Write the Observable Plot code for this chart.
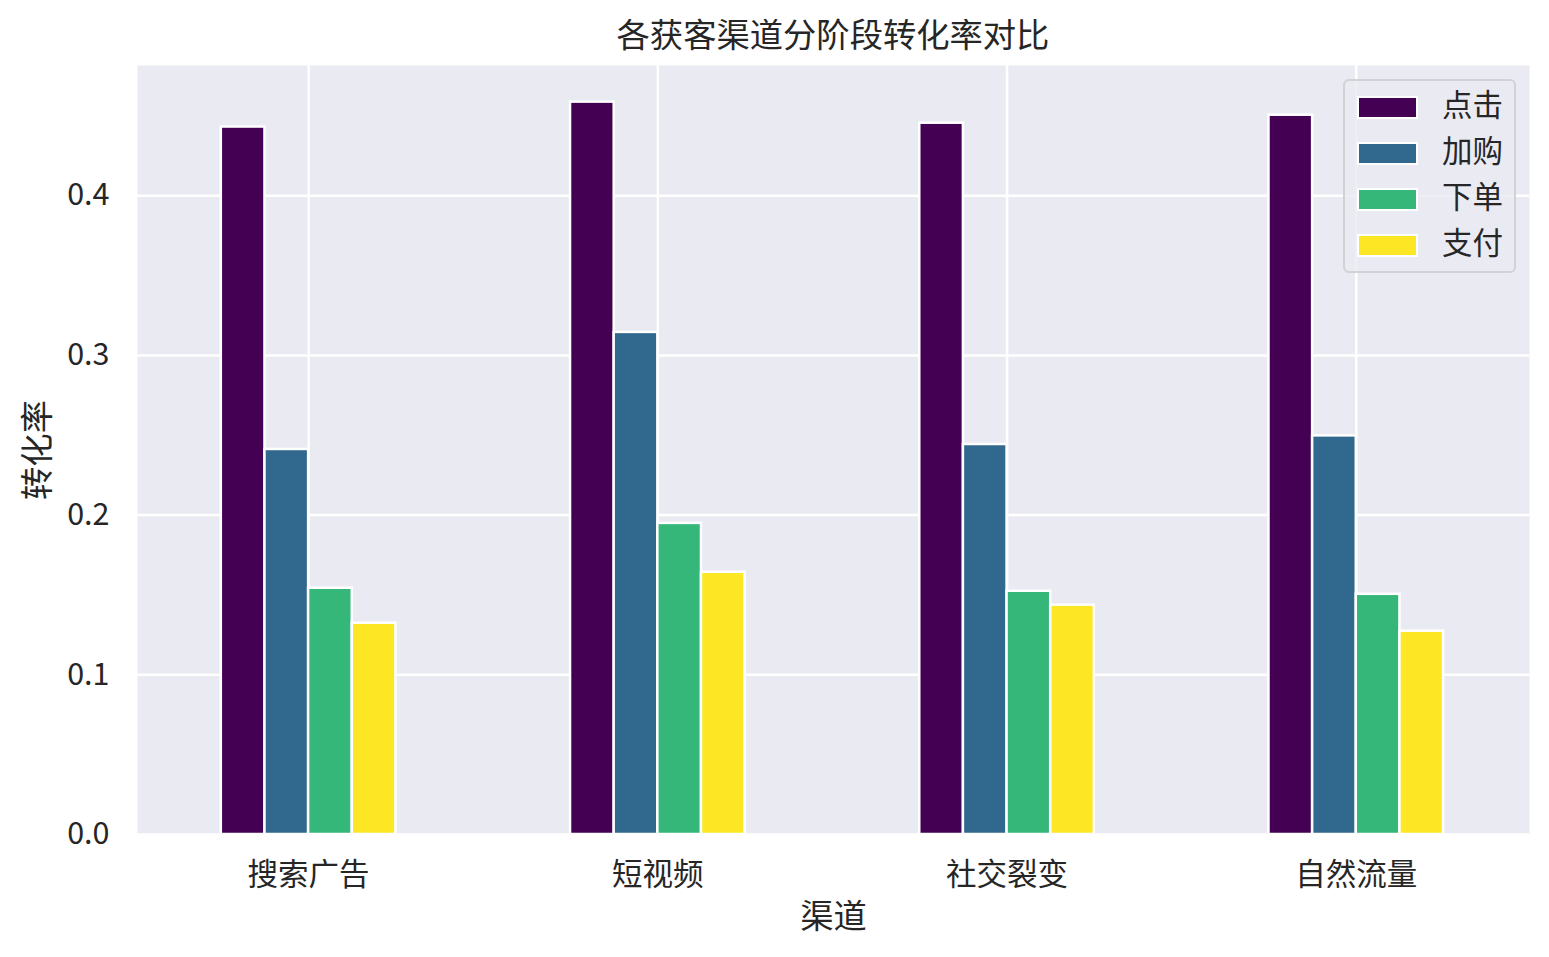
<!DOCTYPE html>
<html><head><meta charset="utf-8">
<script src="https://cdn.jsdelivr.net/npm/d3@7"></script>
<script src="https://cdn.jsdelivr.net/npm/@observablehq/plot@0.6"></script>
<style>
body{margin:0;background:#fff;font-family:"Noto Sans CJK SC","Noto Sans",sans-serif;color:#262626}
#wrap{position:relative;width:1549px;height:957px;overflow:hidden}
#title{position:absolute;left:137px;width:1392px;top:0;height:65px;text-align:center;font-size:33.3px;line-height:66px}
#chart{position:absolute;left:0;top:65px}
#legend{position:absolute;left:1343px;top:79px;width:173px;height:194px;box-sizing:border-box;border:2px solid #d2d2d6;border-radius:6px;background:rgba(234,234,242,0.8)}
.row{position:absolute;left:0;width:170px;height:46px}
.sw{position:absolute;left:12px;top:11.5px;width:61px;height:23px;box-sizing:border-box;border:2px solid #fff}
.lb{position:absolute;left:97px;top:-4px;line-height:46px;font-size:30.5px;white-space:nowrap}
</style></head><body>
<div id="wrap"><div id="title"></div><div id="chart"></div><div id="legend"></div></div>
<script>
const titleText = "各获客渠道分阶段转化率对比";
const xLabel = "渠道";
const yLabel = "转化率";
const channels = ["搜索广告", "短视频", "社交裂变", "自然流量"];
const stages = ["点击", "加购", "下单", "支付"];
const clickRate = [0.443, 0.4586, 0.4454, 0.4504];
const cartRate = [0.2411, 0.3144, 0.2442, 0.2496];
const orderRate = [0.1542, 0.1948, 0.1523, 0.1504];
const payRate = [0.1323, 0.1642, 0.1436, 0.1273];
const stageColors = ["#440154", "#31688e", "#35b779", "#fde725"];
const yTicks = [0, 0.1, 0.2, 0.3, 0.4];

const series = [clickRate, cartRate, orderRate, payRate];
const rows = [];
channels.forEach((c, ci) => series.forEach((vals, si) => rows.push({channel: c, ci, stage: stages[si], si, value: vals[ci]})));
const groupWidth = 0.5, barW = groupWidth / stages.length;
const yMax = d3.max(rows, d => d.value) * 1.05;

document.getElementById("title").textContent = titleText;
const font = '"Noto Sans CJK SC","Noto Sans",sans-serif';

const chart = Plot.plot({
  width: 1549, height: 892,
  marginTop: 0, marginLeft: 137, marginRight: 20, marginBottom: 123,
  style: {fontFamily: font, fontSize: "30.5px", color: "#262626", background: "transparent"},
  x: {type: "linear", domain: [-0.49, channels.length - 0.504]},
  y: {domain: [0, yMax]},
  color: {domain: stages, range: stageColors},
  marks: [
    Plot.frame({fill: "#EAEAF2", stroke: null}),
    Plot.gridX(channels.map((c, i) => i), {stroke: "#fff", strokeOpacity: 1, strokeWidth: 2.5}),
    Plot.gridY(yTicks, {stroke: "#fff", strokeOpacity: 1, strokeWidth: 2.5}),
    Plot.rectY(rows, {
      x1: d => d.ci + (d.si - stages.length / 2) * barW,
      x2: d => d.ci + (d.si - stages.length / 2 + 1) * barW,
      y: "value", fill: "stage", stroke: "#fff", strokeWidth: 2.5
    }),
    Plot.axisX(channels.map((c, i) => i), {tickFormat: i => channels[i], tickSize: 0, tickPadding: 29, fontSize: 30.5, label: null}),
    Plot.axisX([], {tickSize: 0, label: xLabel, labelAnchor: "center", labelArrow: "none", labelOffset: 93, fontSize: 33.3}),
    Plot.axisY(yTicks, {tickFormat: d3.format(".1f"), tickSize: 0, tickPadding: 28, fontSize: 30.5, label: null}),
    Plot.axisY([], {tickSize: 0, label: yLabel, labelAnchor: "center", labelArrow: "none", labelOffset: 112, fontSize: 33.3})
  ]
});
document.getElementById("chart").appendChild(chart);

const legend = document.getElementById("legend");
stages.forEach((s, k) => {
  const row = document.createElement("div");
  row.className = "row";
  row.style.top = (3 + 46 * k) + "px";
  const sw = document.createElement("div");
  sw.className = "sw";
  sw.style.background = stageColors[k];
  const lb = document.createElement("div");
  lb.className = "lb";
  lb.textContent = s;
  row.appendChild(sw); row.appendChild(lb);
  legend.appendChild(row);
});
</script>
</body></html>
